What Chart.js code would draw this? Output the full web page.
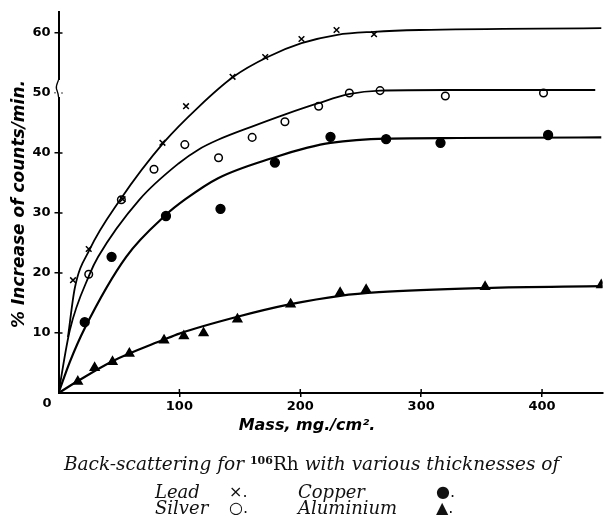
<!DOCTYPE html>
<html>
<head>
<meta charset="utf-8">
<script src="https://cdn.jsdelivr.net/npm/chart.js@4/dist/chart.umd.min.js"></script>
<style>
  body { margin: 0; background: #fff; }
  #wrap { position: relative; width: 609px; height: 522px; }
  #grafico { position: absolute; left: 0; top: 0; }
  .legenda { position: absolute; font-family: "DejaVu Serif", serif; font-style: italic; font-size: 18px; line-height: 18px; color: #111; white-space: nowrap; }
  .legenda .rh { font-style: normal; }
  .legenda sup { font-size: 11px; font-style: normal; font-weight: bold; vertical-align: 6px; }
  .titulo { font-size: 18.5px; }
  .sim { font-style: normal; font-family: "DejaVu Sans", sans-serif; font-size: 16px; }
</style>
</head>
<body>
<div id="wrap">
  <canvas id="grafico" width="609" height="522"></canvas>
  <div class="legenda titulo" style="left:64px; top:452px;">Back-scattering for <sup>106</sup><span class="rh">Rh</span> with various thicknesses of</div>
  <div class="legenda" style="left:155px; top:483px;">Lead</div>
  <div class="legenda sim" style="left:229px; top:483px;">×.</div>
  <div class="legenda" style="left:298px; top:483px;">Copper</div>
  <div class="legenda sim" style="left:436px; top:483px;">●.</div>
  <div class="legenda" style="left:155px; top:499px;">Silver</div>
  <div class="legenda sim" style="left:229px; top:499px;">○.</div>
  <div class="legenda" style="left:298px; top:499px;">Aluminium</div>
  <div class="legenda sim" style="left:436px; top:499px;">▲.</div>
</div>
<script>
// pontos medidos (massa em mg/cm2, aumento em %)
const leadMass = [12, 25, 53, 86, 105.5, 144, 171, 201, 230, 261];
const leadPct = [18.8, 24, 32.3, 41.7, 47.8, 52.7, 56, 59, 60.5, 59.8];

const silverMass = [25, 52, 79, 104.5, 132.4, 160.2, 187.3, 215.2, 240.6, 266, 320, 401.2];
const silverPct = [19.8, 32.2, 37.3, 41.4, 39.2, 42.6, 45.2, 47.8, 50, 50.4, 49.5, 50];

const copperMass = [21.7, 43.9, 88.9, 134, 179, 225, 271, 316, 405];
const copperPct = [11.8, 22.7, 29.5, 30.7, 38.4, 42.7, 42.3, 41.7, 43];

const aluMass = [16, 29.9, 44.7, 58.6, 87.3, 103.7, 120, 148, 192, 233, 254.5, 352.9, 449];
const aluPct = [1.9, 4.2, 5.2, 6.6, 8.8, 9.5, 10, 12.3, 14.8, 16.7, 17.2, 17.7, 18];

// curvas ajustadas à mão
const leadCurveX = [7.8, 13.5, 25.5, 51, 87.3, 116, 144.7, 173, 201, 230.7, 261, 298.8, 449];
const leadCurveY = [9.3, 17.5, 23.8, 32.2, 41.8, 47.7, 52.7, 56, 58.3, 59.7, 60.2, 60.5, 60.8];

const silverCurveX = [0, 9.4, 25.8, 32.8, 66.8, 99.6, 116, 132, 160, 187, 215, 240, 266, 320, 444];
const silverCurveY = [0, 10.5, 19.8, 22.7, 32.2, 38.3, 40.6, 42.2, 44.4, 46.4, 48.3, 49.8, 50.4, 50.5, 50.5];

const copperCurveX = [0, 9.4, 21.7, 56, 88.9, 105, 132, 179, 206, 225, 271, 330, 449];
const copperCurveY = [0, 5.2, 10.8, 22.7, 29.7, 32.3, 35.8, 39.3, 40.9, 41.7, 42.4, 42.5, 42.6];

const aluCurveX = [0, 16, 44.7, 87.3, 100, 148, 192, 233, 265, 353, 450];
const aluCurveY = [0, 2, 5.3, 8.9, 9.9, 12.7, 14.8, 16.2, 16.8, 17.5, 17.8];

const xTicks = [100, 200, 300, 400];
const yTicks = [10, 20, 30, 40, 50, 60];

function pares(xs, ys) {
    return xs.map((x, i) => ({ x: x, y: ys[i] }));
}

function curva(xs, ys, largura) {
    return {
        type: 'line',
        data: pares(xs, ys),
        borderColor: '#000',
        borderWidth: largura,
        pointRadius: 0,
        cubicInterpolationMode: 'monotone',
        fill: false
    };
}

function pontos(xs, ys, estilo, raio, fundo) {
    return {
        type: 'scatter',
        data: pares(xs, ys),
        pointStyle: estilo,
        pointRadius: raio,
        pointBackgroundColor: fundo,
        pointBorderColor: '#000',
        pointBorderWidth: 1.5
    };
}

// marcas internas dos eixos, quebra no eixo y, títulos
const decoracao = {
    id: 'decoracao',
    afterDraw(chart) {
        const ctx = chart.ctx;
        const area = chart.chartArea;
        const sx = chart.scales.x;
        const sy = chart.scales.y;
        ctx.save();
        ctx.strokeStyle = '#000';
        ctx.lineWidth = 1.5;
        ctx.beginPath();
        xTicks.forEach(v => {
            const px = sx.getPixelForValue(v);
            ctx.moveTo(px, area.bottom);
            ctx.lineTo(px, area.bottom - 4);
        });
        yTicks.forEach(v => {
            const py = sy.getPixelForValue(v);
            ctx.moveTo(area.left, py);
            ctx.lineTo(area.left + 4, py);
        });
        ctx.stroke();

        // quebra do eixo entre 50 e 60
        ctx.fillStyle = '#fff';
        ctx.fillRect(area.left - 3, 80, 6, 17);
        ctx.lineWidth = 1.3;
        ctx.beginPath();
        ctx.moveTo(area.left, 80);
        ctx.bezierCurveTo(area.left - 1, 83, area.left - 3, 86, area.left - 2, 89);
        ctx.bezierCurveTo(area.left - 1, 92, area.left, 94, area.left, 97);
        ctx.stroke();

        ctx.fillStyle = '#000';
        ctx.font = 'bold 13px "DejaVu Sans"';
        ctx.textAlign = 'center';
        ctx.textBaseline = 'middle';
        ctx.fillText('0', 47, 404);

        ctx.font = 'italic bold 16px "DejaVu Sans"';
        ctx.fillText('Mass, mg./cm².', 307, 426);

        ctx.font = 'italic bold 17px "DejaVu Sans"';
        ctx.translate(20, 204);
        ctx.rotate(-Math.PI / 2);
        ctx.fillText('% Increase of counts/min.', 0, 0);
        ctx.restore();
    }
};

const ctx = document.getElementById('grafico').getContext('2d');
new Chart(ctx, {
    data: {
        datasets: [
            curva(leadCurveX, leadCurveY, 1.8),
            curva(silverCurveX, silverCurveY, 1.8),
            curva(copperCurveX, copperCurveY, 2.2),
            curva(aluCurveX, aluCurveY, 2.2),
            pontos(leadMass, leadPct, 'crossRot', 4, '#000'),
            pontos(silverMass, silverPct, 'circle', 3.8, '#fff'),
            pontos(copperMass, copperPct, 'circle', 4.4, '#000'),
            pontos(aluMass, aluPct, 'triangle', 5, '#000')
        ]
    },
    options: {
        responsive: false,
        animation: false,
        events: [],
        layout: { padding: { top: 12, right: 1, left: 0, bottom: 0 } },
        plugins: {
            legend: { display: false },
            tooltip: { enabled: false }
        },
        scales: {
            x: {
                type: 'linear',
                min: 0,
                max: 450,
                afterFit(scale) { scale.height = 129; },
                afterBuildTicks(scale) { scale.ticks = xTicks.map(v => ({ value: v })); },
                border: { display: true, color: '#000', width: 2 },
                grid: { drawOnChartArea: false, drawTicks: true, tickLength: 4, color: '#000', lineWidth: 1.5 },
                ticks: {
                    color: '#000',
                    padding: 2,
                    maxRotation: 0,
                    font: { family: 'DejaVu Sans', size: 13, weight: 'bold' }
                }
            },
            y: {
                type: 'linear',
                min: 0,
                max: 63.5,
                afterFit(scale) { scale.width = 58.5; },
                afterBuildTicks(scale) { scale.ticks = yTicks.map(v => ({ value: v })); },
                border: { display: true, color: '#000', width: 2 },
                grid: { drawOnChartArea: false, drawTicks: true, tickLength: 4, color: '#000', lineWidth: 1.5 },
                ticks: {
                    color: '#000',
                    padding: 4,
                    font: { family: 'DejaVu Sans', size: 13, weight: 'bold' }
                }
            }
        }
    },
    plugins: [decoracao]
});
</script>
</body>
</html>
